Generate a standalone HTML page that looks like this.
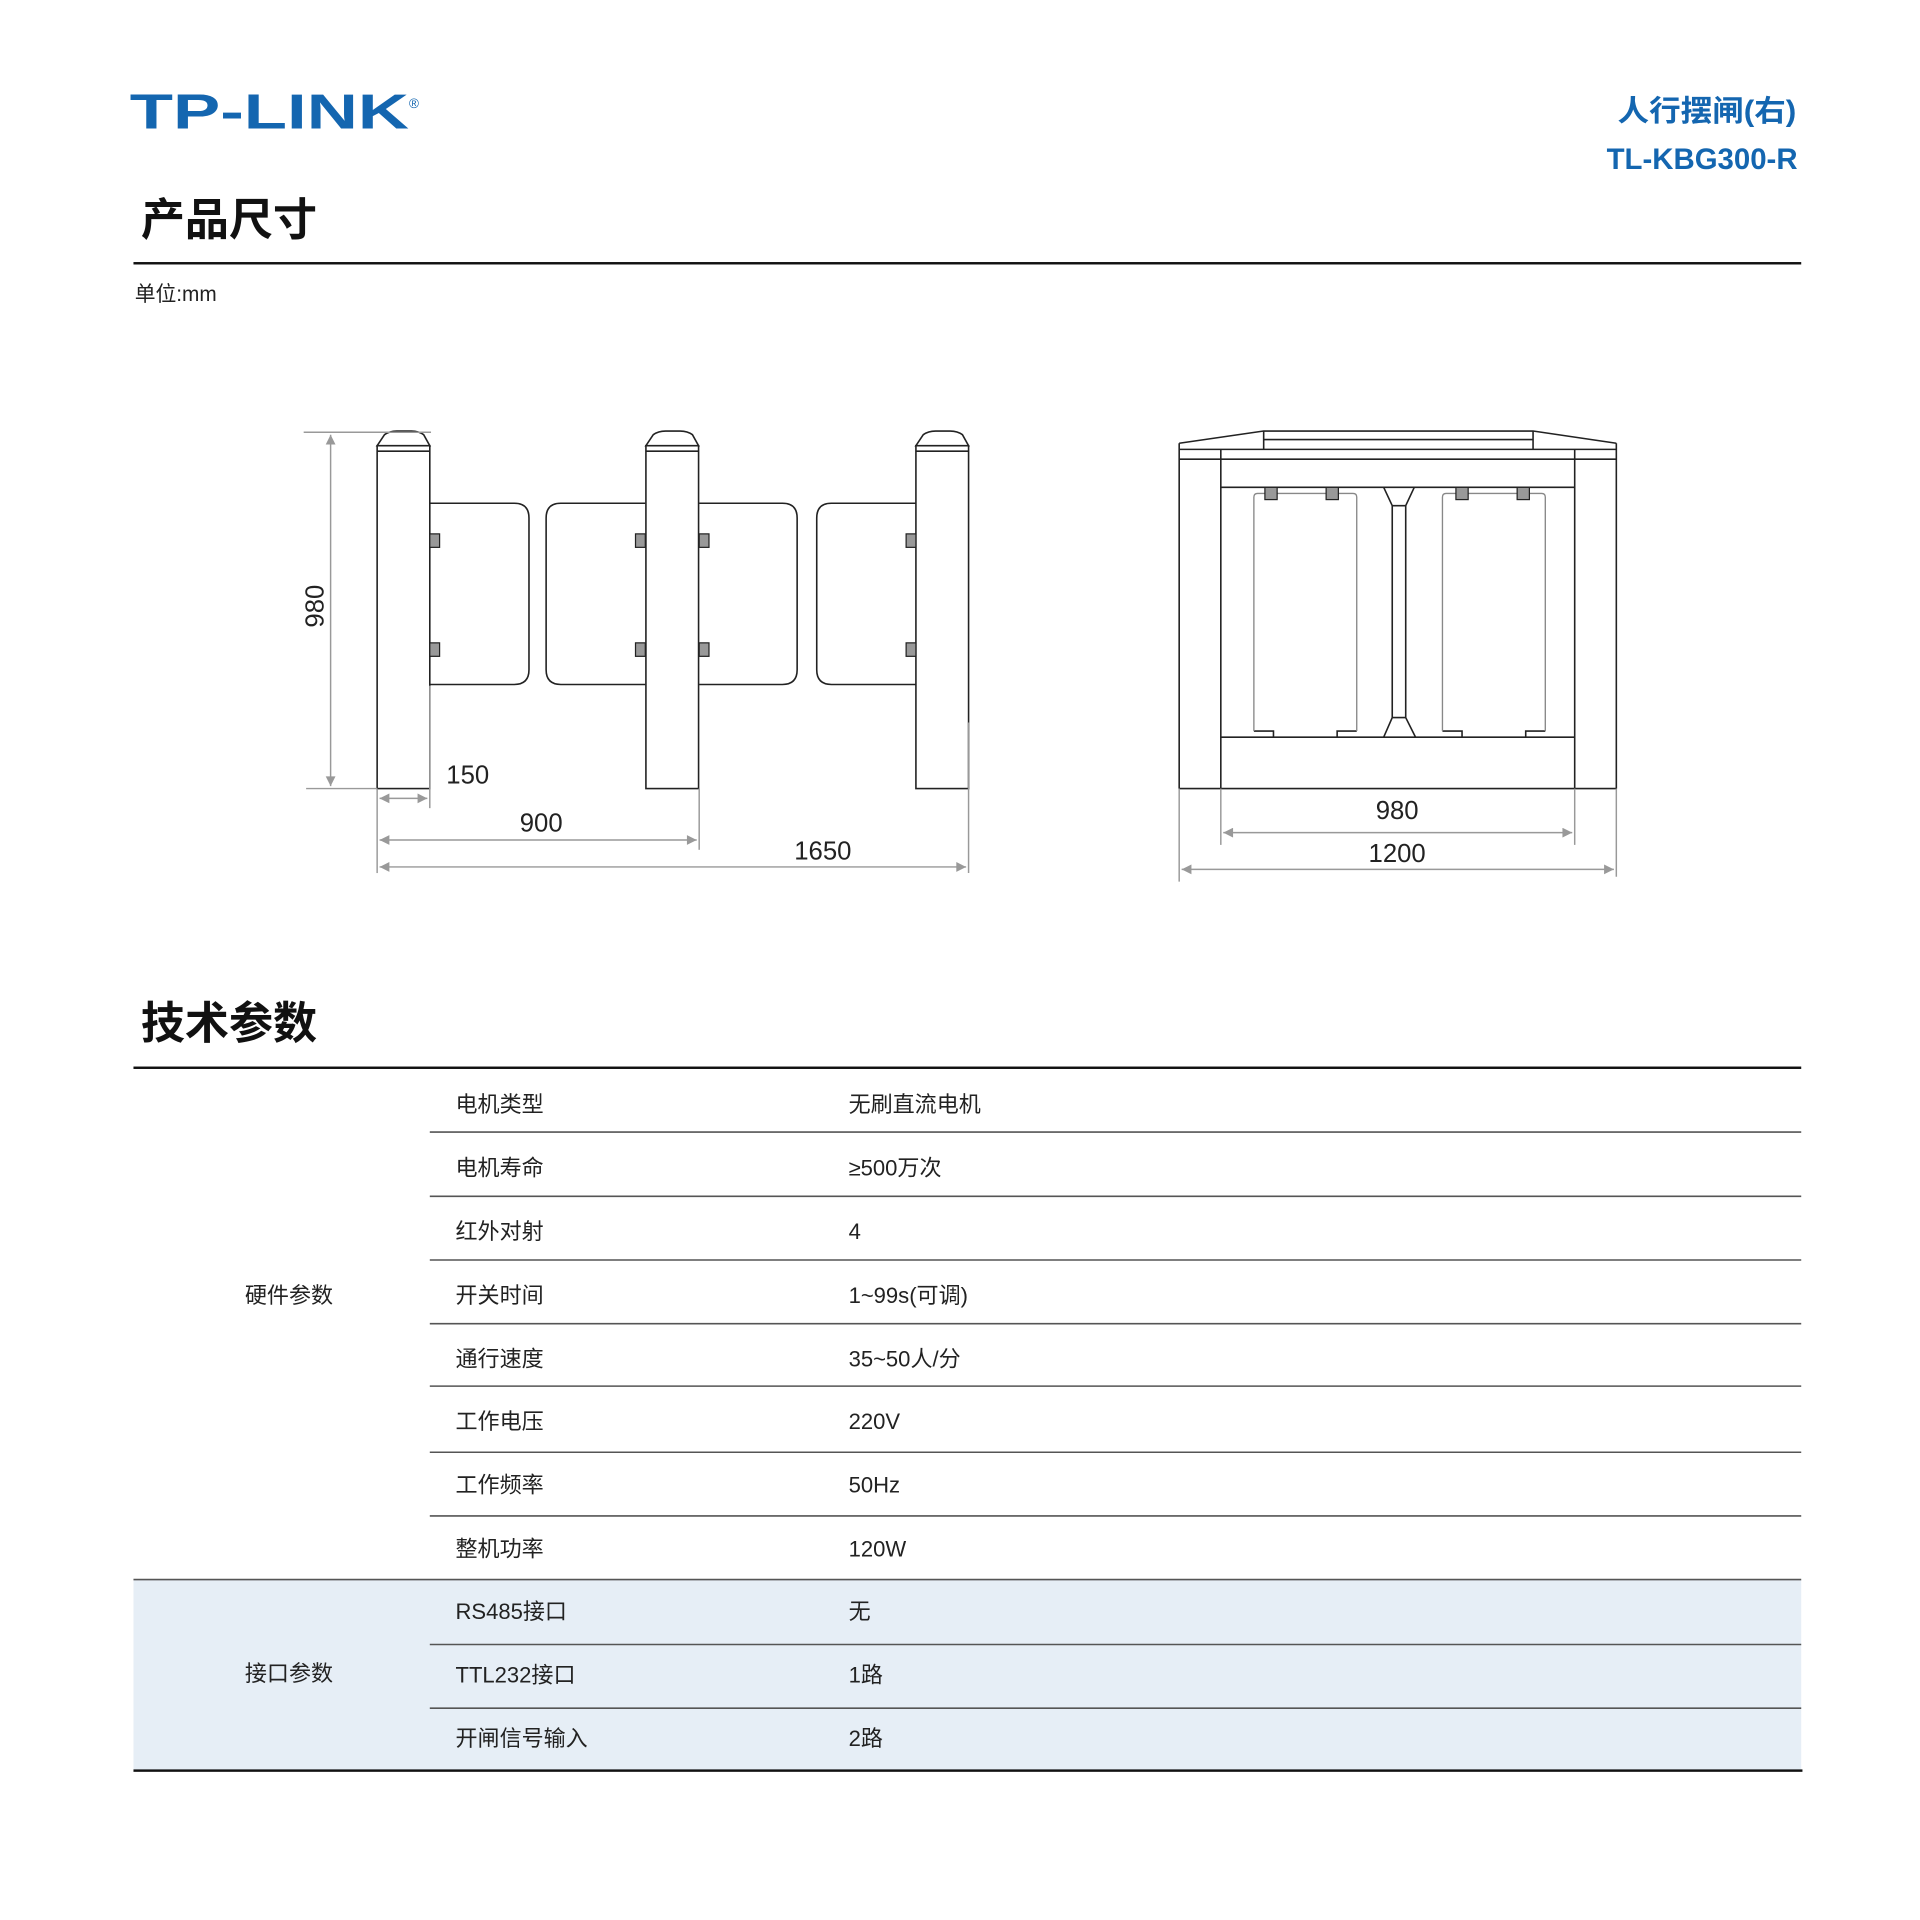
<!DOCTYPE html>
<html><head><meta charset="utf-8"><style>
html,body{margin:0;padding:0;background:#fff;}
svg{display:block;}
text{font-family:"Liberation Sans","Noto Sans CJK SC",sans-serif;}
</style></head><body>
<svg width="1920" height="1920" viewBox="0 0 1568 1568" xmlns="http://www.w3.org/2000/svg">
<defs>
<marker id="a" viewBox="0 0 10 10" refX="10" refY="5" markerWidth="12" markerHeight="8" orient="auto-start-reverse" markerUnits="userSpaceOnUse"><path d="M0,0 L10,5 L0,10 z" fill="#999"/></marker>
</defs>
<!-- Header -->
<text x="106" y="105" font-size="40" font-weight="bold" fill="#1466b0" textLength="228" lengthAdjust="spacingAndGlyphs">TP-LINK</text>
<text x="334" y="88" font-size="11" fill="#1466b0">®</text>
<text x="1467" y="99" font-size="24" font-weight="bold" fill="#1466b0" text-anchor="end" textLength="146" lengthAdjust="spacingAndGlyphs">人行摆闸(右)</text>
<text x="1468" y="138" font-size="24" font-weight="bold" fill="#1466b0" text-anchor="end">TL-KBG300-R</text>
<text x="115" y="192" font-size="36" font-weight="bold" fill="#111">产品尺寸</text>
<rect x="109" y="214" width="1362" height="2" fill="#111"/>
<text x="110" y="246" font-size="17" fill="#222">单位:mm</text>

<!-- Left diagram -->
<g fill="none" stroke="#222" stroke-width="1.3">
 <path d="M351,411 H420 Q432,411 432,423 V547 Q432,559 420,559 H351"/>
 <path d="M527,411 H458 Q446,411 446,423 V547 Q446,559 458,559 H527"/>
 <path d="M571,411 H639 Q651,411 651,423 V547 Q651,559 639,559 H571"/>
 <path d="M748,411 H679 Q667,411 667,423 V547 Q667,559 679,559 H748"/>
 <g id="p">
 <rect x="308" y="364" width="43" height="280" fill="#fff"/>
 <line x1="308" y1="368.5" x2="351" y2="368.5"/>
 <path d="M308,364 L314,355 Q318,352 324,352 H336 Q342,352 346,355 L351,364 Z" fill="#fff"/>
 </g>
 <use href="#p" x="219.5"/>
 <use href="#p" x="440"/>
</g>
<g fill="#999" stroke="#222" stroke-width="1">
 <rect x="351" y="436" width="8" height="11"/><rect x="351" y="525" width="8" height="11"/>
 <rect x="519" y="436" width="8" height="11"/><rect x="519" y="525" width="8" height="11"/>
 <rect x="571" y="436" width="8" height="11"/><rect x="571" y="525" width="8" height="11"/>
 <rect x="740" y="436" width="8" height="11"/><rect x="740" y="525" width="8" height="11"/>
</g>
<g stroke="#999" stroke-width="1.2" fill="none">
 <line x1="248" y1="353" x2="352" y2="353"/>
 <line x1="250" y1="644" x2="308" y2="644"/>
 <line x1="270" y1="355" x2="270" y2="642" marker-start="url(#a)" marker-end="url(#a)"/>
 <line x1="308" y1="644" x2="308" y2="713"/>
 <line x1="351" y1="560" x2="351" y2="660"/>
 <line x1="571" y1="644" x2="571" y2="694"/>
 <line x1="791" y1="590" x2="791" y2="713"/>
 <line x1="310" y1="652" x2="349" y2="652" marker-start="url(#a)" marker-end="url(#a)"/>
 <line x1="310" y1="686" x2="569" y2="686" marker-start="url(#a)" marker-end="url(#a)"/>
 <line x1="310" y1="708" x2="789" y2="708" marker-start="url(#a)" marker-end="url(#a)"/>
</g>
<g font-size="21" fill="#222">
 <text x="264" y="495" text-anchor="middle" transform="rotate(-90 264 495)">980</text>
 <text x="382" y="640" text-anchor="middle">150</text>
 <text x="442" y="679" text-anchor="middle">900</text>
 <text x="672" y="702" text-anchor="middle">1650</text>
</g>

<!-- Right diagram -->
<g fill="none" stroke="#222" stroke-width="1.3">
 <path d="M963,362 L1032,352 H1252 L1320,362"/>
 <line x1="1032" y1="352" x2="1032" y2="367"/>
 <line x1="1252" y1="352" x2="1252" y2="367"/>
 <line x1="1032" y1="359" x2="1252" y2="359"/>
 <line x1="963" y1="367" x2="1320" y2="367"/>
 <line x1="963" y1="375" x2="1320" y2="375"/>
 <line x1="963" y1="362" x2="963" y2="644"/>
 <line x1="1320" y1="362" x2="1320" y2="644"/>
 <line x1="997" y1="367" x2="997" y2="644"/>
 <line x1="1286" y1="367" x2="1286" y2="644"/>
 <line x1="997" y1="398" x2="1286" y2="398"/>
 <line x1="997" y1="602" x2="1286" y2="602"/>
 <line x1="963" y1="644" x2="1320" y2="644"/>
 <path d="M1130,398 L1137,413 V586 L1130,602 M1155,398 L1148,413 V586 L1156,602 M1137,413 H1148 M1137,586 H1148"/>
 <path d="M1040,602 V597 H1024" />
 <path d="M1092,602 V597 H1108" />
 <path d="M1194,602 V597 H1178" />
 <path d="M1246,602 V597 H1262" />
</g>
<g fill="none" stroke="#888" stroke-width="1.1">
 <path d="M1024,597 V406 Q1024,403 1027,403 H1105 Q1108,403 1108,406 V597"/>
 <path d="M1178,597 V406 Q1178,403 1181,403 H1259 Q1262,403 1262,406 V597"/>
</g>
<g fill="#999" stroke="#222" stroke-width="1">
 <rect x="1033" y="398" width="10" height="10"/><rect x="1083" y="398" width="10" height="10"/>
 <rect x="1189" y="398" width="10" height="10"/><rect x="1239" y="398" width="10" height="10"/>
</g>
<g stroke="#999" stroke-width="1.2" fill="none">
 <line x1="997" y1="644" x2="997" y2="690"/>
 <line x1="1286" y1="644" x2="1286" y2="690"/>
 <line x1="963" y1="644" x2="963" y2="720"/>
 <line x1="1320" y1="644" x2="1320" y2="716"/>
 <line x1="999" y1="680" x2="1284" y2="680" marker-start="url(#a)" marker-end="url(#a)"/>
 <line x1="965" y1="710" x2="1318" y2="710" marker-start="url(#a)" marker-end="url(#a)"/>
</g>
<g font-size="21" fill="#222">
 <text x="1141" y="669" text-anchor="middle">980</text>
 <text x="1141" y="704" text-anchor="middle">1200</text>
</g>

<!-- Tech params -->
<text x="115" y="848" font-size="36" font-weight="bold" fill="#111">技术参数</text>
<rect x="109" y="1290" width="1362" height="156" fill="#e6eef6"/>
<rect x="109" y="871" width="1362" height="2" fill="#111"/>
<g stroke="#555" stroke-width="1.3">
 <line x1="351" y1="924.5" x2="1471" y2="924.5"/>
 <line x1="351" y1="977" x2="1471" y2="977"/>
 <line x1="351" y1="1029" x2="1471" y2="1029"/>
 <line x1="351" y1="1081" x2="1471" y2="1081"/>
 <line x1="351" y1="1132" x2="1471" y2="1132"/>
 <line x1="351" y1="1186" x2="1471" y2="1186"/>
 <line x1="351" y1="1238" x2="1471" y2="1238"/>
 <line x1="109" y1="1290" x2="1471" y2="1290"/>
 <line x1="351" y1="1343" x2="1471" y2="1343"/>
 <line x1="351" y1="1395" x2="1471" y2="1395"/>
</g>
<rect x="109" y="1445" width="1363" height="2" fill="#111"/>
<g font-size="18" fill="#222">
 <text x="200" y="1064">硬件参数</text>
 <text x="200" y="1373">接口参数</text>
 <text x="372" y="908">电机类型</text><text x="693" y="908">无刷直流电机</text>
 <text x="372" y="960">电机寿命</text><text x="693" y="960">≥500万次</text>
 <text x="372" y="1012">红外对射</text><text x="693" y="1012">4</text>
 <text x="372" y="1064">开关时间</text><text x="693" y="1064">1~99s(可调)</text>
 <text x="372" y="1116">通行速度</text><text x="693" y="1116">35~50人/分</text>
 <text x="372" y="1167">工作电压</text><text x="693" y="1167">220V</text>
 <text x="372" y="1219">工作频率</text><text x="693" y="1219">50Hz</text>
 <text x="372" y="1271">整机功率</text><text x="693" y="1271">120W</text>
 <text x="372" y="1322">RS485接口</text><text x="693" y="1322">无</text>
 <text x="372" y="1374">TTL232接口</text><text x="693" y="1374">1路</text>
 <text x="372" y="1426">开闸信号输入</text><text x="693" y="1426">2路</text>
</g>
</svg>
</body></html>
